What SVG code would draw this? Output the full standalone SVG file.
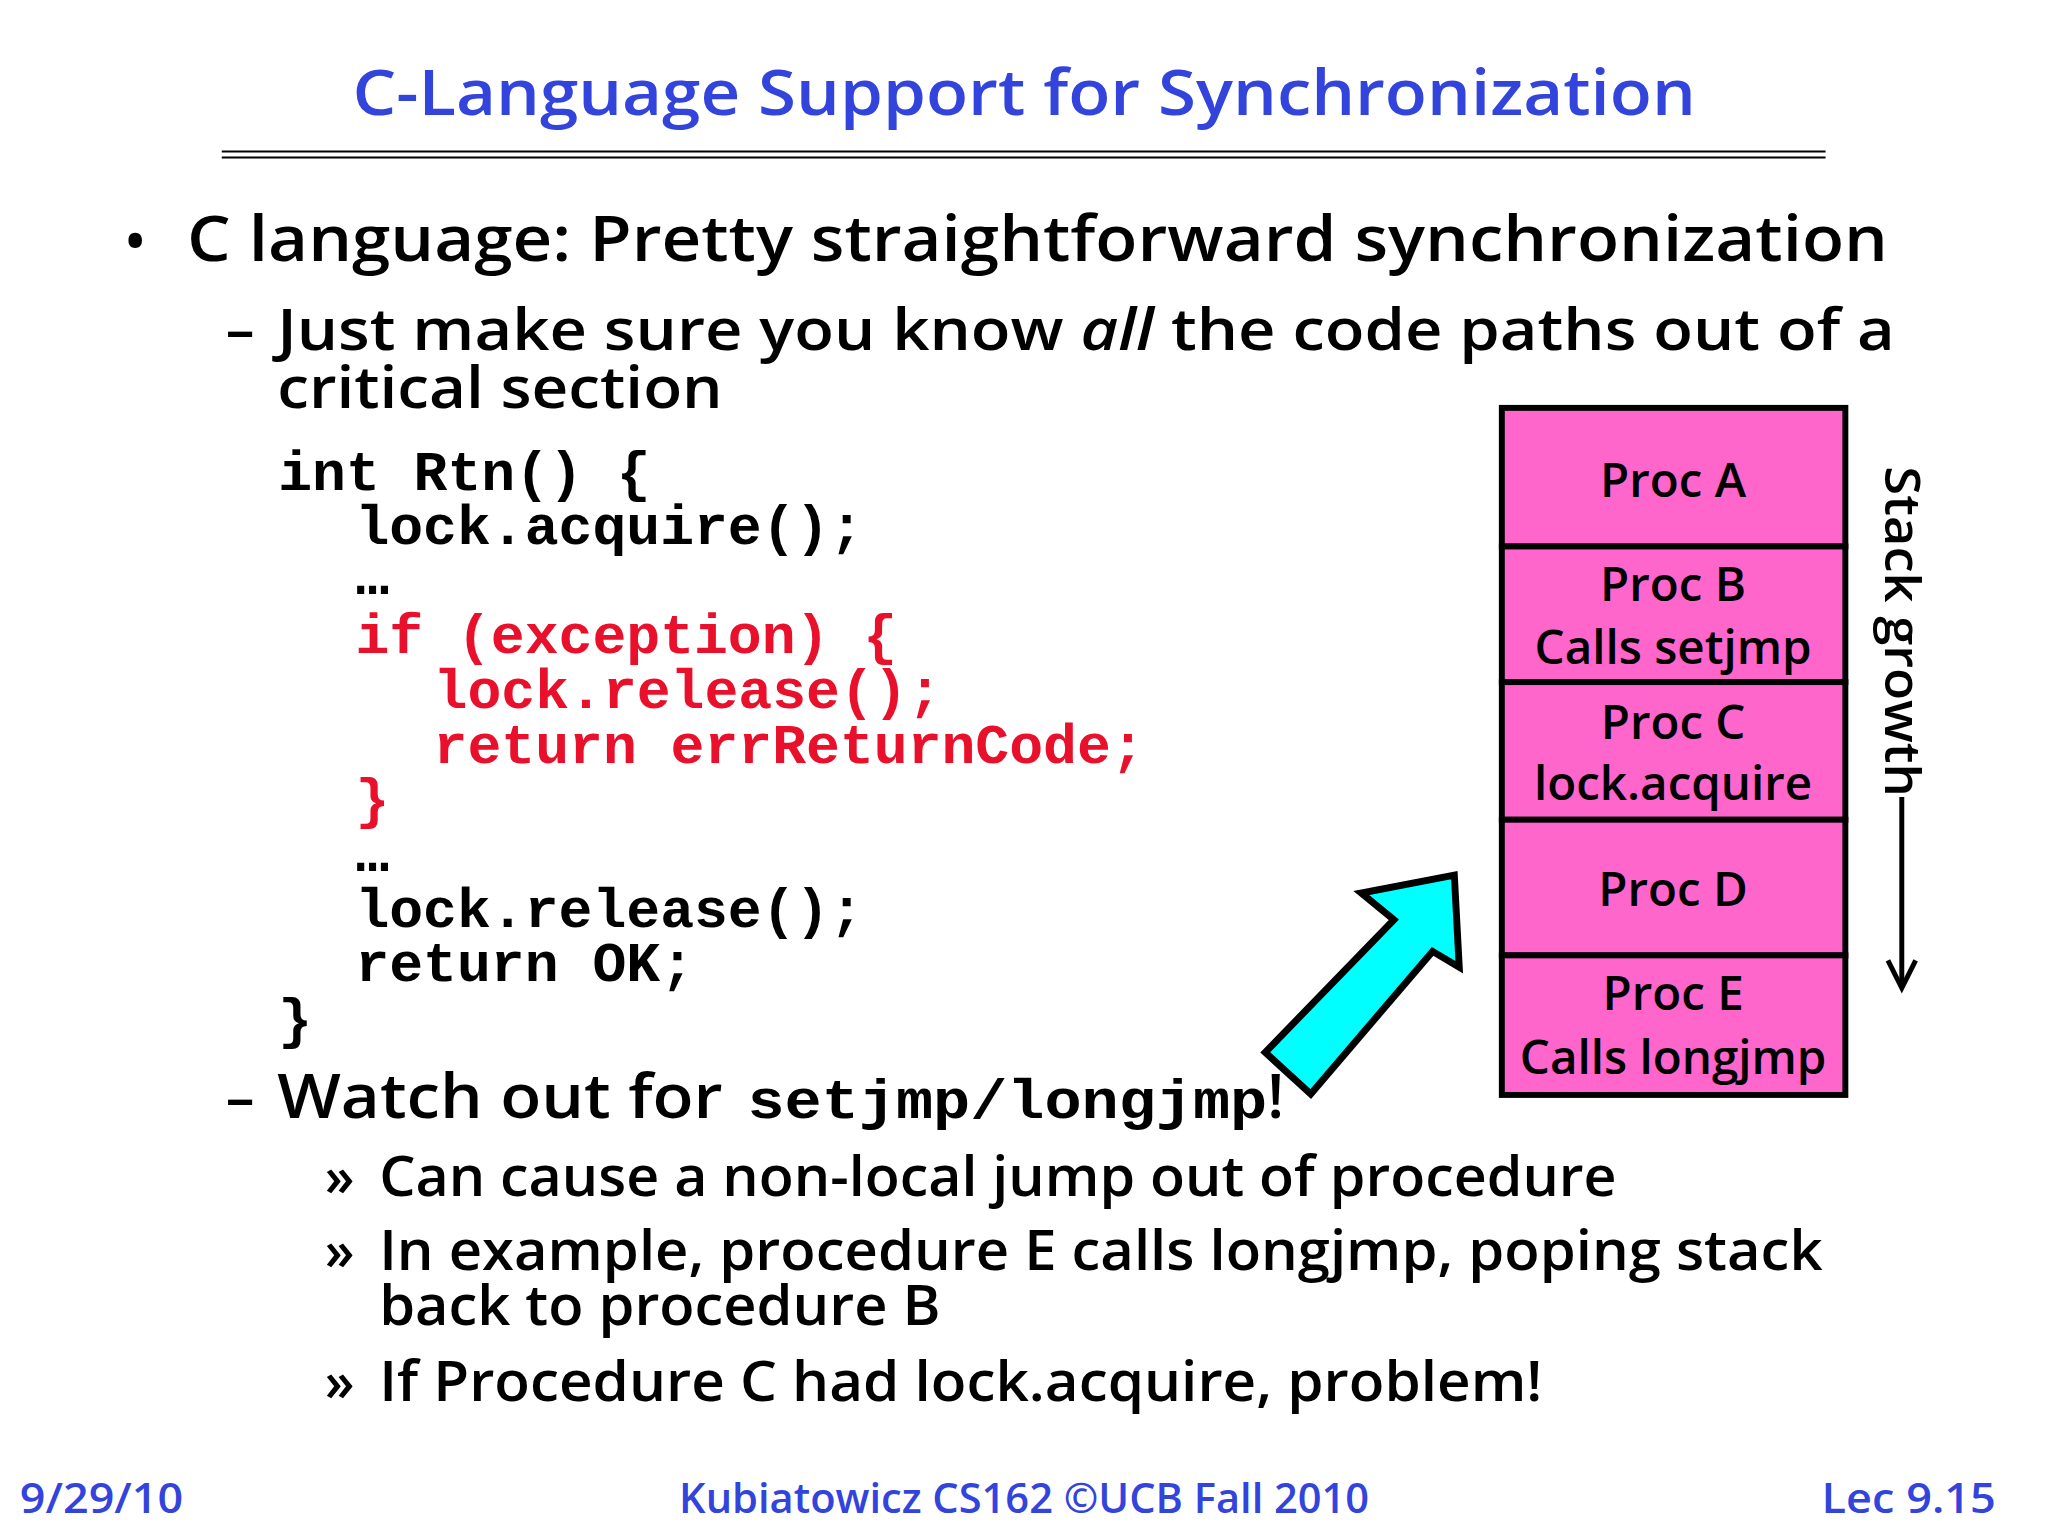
<svg xmlns="http://www.w3.org/2000/svg" width="2048" height="1536" viewBox="0 0 2048 1536">
<style>
.t{font-family:"Open Sans","Liberation Sans",sans-serif;font-weight:600;fill:#000}
.c{font-family:"Liberation Mono","DejaVu Sans Mono",monospace;font-weight:bold;font-size:57px;fill:#000}
.r{fill:#e8102a}
.box{fill:#ff66cc;stroke:#000;stroke-width:6}
.bl{font-family:"Open Sans","Liberation Sans",sans-serif;font-weight:600;font-size:48px;text-anchor:middle}
</style>
<rect width="2048" height="1536" fill="#fff"/>
<g transform="scale(0.99)">
<text x="356" y="116" class="t" style="fill:#3344dd;font-size:64px" textLength="1357" lengthAdjust="spacingAndGlyphs">C-Language Support for Synchronization</text>
<line x1="224" y1="153" x2="1844" y2="153" stroke="#000" stroke-width="2"/>
<line x1="224" y1="159" x2="1844" y2="159" stroke="#000" stroke-width="2"/>
<text x="126" y="264" class="t" font-size="56">•</text>
<text x="189" y="264" class="t" font-size="64" textLength="1718" lengthAdjust="spacingAndGlyphs">C language: Pretty straightforward synchronization</text>
<text x="228" y="354" class="t" font-size="58">–</text>
<text x="280" y="354" class="t" font-size="58" textLength="1634" lengthAdjust="spacingAndGlyphs">Just make sure you know <tspan font-style="italic">all</tspan> the code paths out of a</text>
<text x="280" y="412" class="t" font-size="58" textLength="450" lengthAdjust="spacingAndGlyphs">critical section</text>
<g id="code">
<text x="281" y="495" class="c">int Rtn() {</text>
<text x="359" y="550" class="c">lock.acquire();</text>
<text x="359" y="600" class="c">…</text>
<text x="359" y="660" class="c r">if (exception) {</text>
<text x="438" y="715" class="c r">lock.release();</text>
<text x="438" y="771" class="c r">return errReturnCode;</text>
<text x="359" y="825" class="c r">}</text>
<text x="359" y="880" class="c">…</text>
<text x="359" y="936" class="c">lock.release();</text>
<text x="359" y="991" class="c">return OK;</text>
<text x="281" y="1047" class="c">}</text>
</g>
<text x="228" y="1129" class="t" font-size="58">–</text>
<text x="280" y="1129" class="t" font-size="62" textLength="450" lengthAdjust="spacingAndGlyphs">Watch out for</text>
<text x="755" y="1129" class="c" textLength="525" lengthAdjust="spacingAndGlyphs">setjmp/longjmp</text>
<text x="1280" y="1129" class="t" font-size="62">!</text>
<text x="328" y="1208" class="t" font-size="54">»</text>
<text x="383" y="1208" class="t" font-size="56" textLength="1250" lengthAdjust="spacingAndGlyphs">Can cause a non-local jump out of procedure</text>
<text x="328" y="1283" class="t" font-size="54">»</text>
<text x="383" y="1283" class="t" font-size="56" textLength="1458" lengthAdjust="spacingAndGlyphs">In example, procedure E calls longjmp, poping stack</text>
<text x="383" y="1338" class="t" font-size="56" textLength="567" lengthAdjust="spacingAndGlyphs">back to procedure B</text>
<text x="328" y="1415" class="t" font-size="54">»</text>
<text x="383" y="1415" class="t" font-size="56" textLength="1175" lengthAdjust="spacingAndGlyphs">If Procedure C had lock.acquire, problem!</text>
<g id="stack">
<rect x="1517" y="412" width="347" height="140" class="box"/>
<rect x="1517" y="552" width="347" height="137" class="box"/>
<rect x="1517" y="689" width="347" height="139" class="box"/>
<rect x="1517" y="828" width="347" height="137" class="box"/>
<rect x="1517" y="965" width="347" height="141" class="box"/>
<text x="1690" y="502" class="bl">Proc A</text>
<text x="1690" y="607" class="bl">Proc B</text>
<text x="1690" y="671" class="bl">Calls setjmp</text>
<text x="1690" y="746" class="bl">Proc C</text>
<text x="1690" y="808" class="bl">lock.acquire</text>
<text x="1690" y="915" class="bl">Proc D</text>
<text x="1690" y="1020" class="bl">Proc E</text>
<text x="1690" y="1085" class="bl">Calls longjmp</text>
</g>
<g id="growth">
<text transform="translate(1904,471) rotate(90)" class="t" font-size="50" textLength="334" lengthAdjust="spacingAndGlyphs">Stack growth</text>
<line x1="1921" y1="805" x2="1921" y2="996" stroke="#000" stroke-width="5"/>
<polyline points="1907,970 1921,998 1935,970" fill="none" stroke="#000" stroke-width="5"/>
</g>
<g id="connectors">
<polygon points="1469,884 1375,902 1408,929 1278,1063 1324,1105 1447,961 1474,977" fill="#00ffff" stroke="#000" stroke-width="7" stroke-linejoin="miter"/>
</g>
<text x="20" y="1528" class="t" style="fill:#3344dd;font-size:42px" textLength="165" lengthAdjust="spacingAndGlyphs">9/29/10</text>
<text x="686" y="1528" class="t" style="fill:#3344dd;font-size:42px" textLength="697" lengthAdjust="spacingAndGlyphs">Kubiatowicz CS162 ©UCB Fall 2010</text>
<text x="1840" y="1528" class="t" style="fill:#3344dd;font-size:42px" textLength="176" lengthAdjust="spacingAndGlyphs">Lec 9.15</text>
</g>
</svg>
